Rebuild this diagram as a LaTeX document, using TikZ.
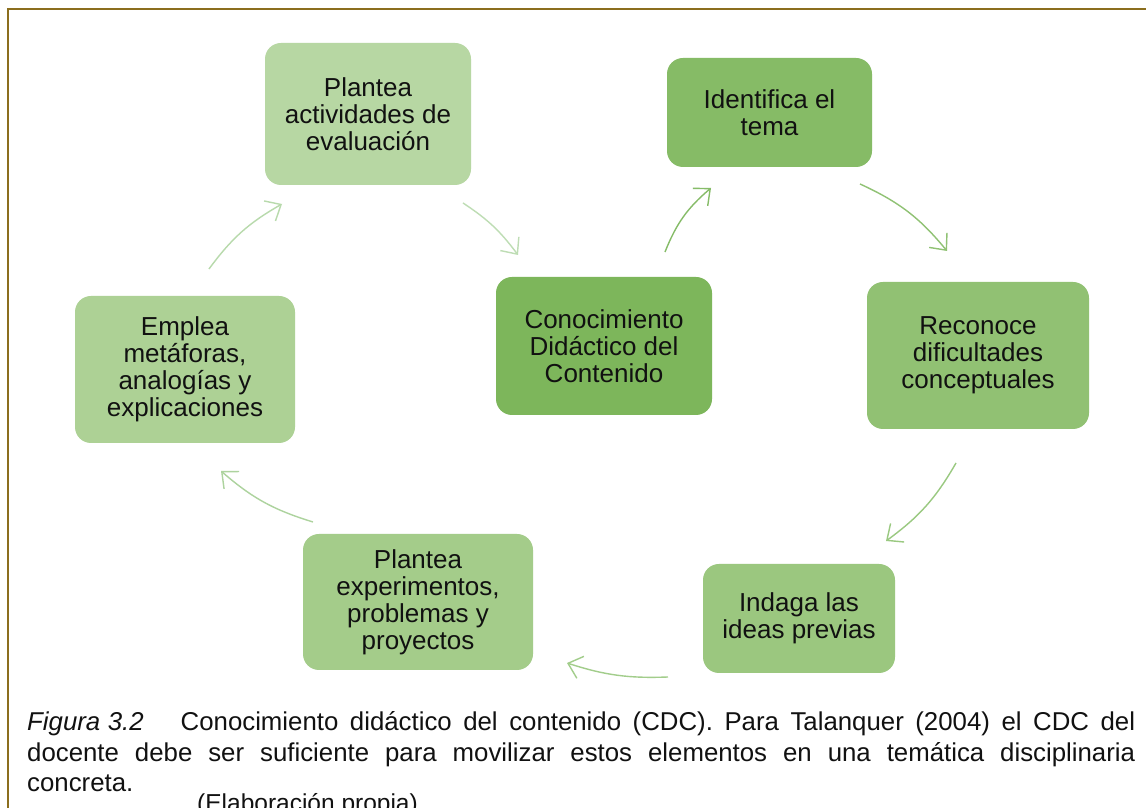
\documentclass[tikz,border=0pt]{standalone}
\usepackage{fontspec}
\setmainfont{Liberation Sans}
\usetikzlibrary{arrows.meta}
\definecolor{frameC}{HTML}{8B6E1E}
\definecolor{cC}{HTML}{7DB65B}
\definecolor{cI}{HTML}{86BB66}
\definecolor{cR}{HTML}{91C173}
\definecolor{cD}{HTML}{9BC77F}
\definecolor{cE}{HTML}{A4CC8A}
\definecolor{cM}{HTML}{ADD195}
\definecolor{cA}{HTML}{B7D7A3}
\definecolor{a1C}{HTML}{86BC68}
\definecolor{a2C}{HTML}{90C274}
\definecolor{a3C}{HTML}{9AC981}
\definecolor{a4C}{HTML}{A2CD8B}
\definecolor{a5C}{HTML}{ADD39E}
\definecolor{a6C}{HTML}{B8DAAC}
\definecolor{a7C}{HTML}{BEDDB4}
\definecolor{txt}{HTML}{111111}
\tikzset{
  box/.style={rounded corners=16pt, inner sep=0pt, align=center, text=txt,
    font=\fontsize{26}{27}\selectfont},
  cyc/.style={line width=1.4pt, -{Straight Barb[length=13pt,width=23pt]}},
  captext/.style={anchor=base west, inner sep=0pt, text=txt, font=\fontsize{25.8}{30}\selectfont}
}
\begin{document}
\begin{tikzpicture}[x=1pt,y=1pt]
\useasboundingbox (0,0) rectangle (1146,808);
\fill[white] (0,0) rectangle (1146,808);
\draw[frameC, line width=2pt] (7.5,798.5) rectangle (1170,-30);

\node[box, fill=cC, minimum width=216pt, minimum height=138pt] (C) at (604,462) {Conocimiento\\Didáctico del\\Contenido};
\node[box, fill=cI, minimum width=205pt, minimum height=109pt] (I) at (769.5,695.5) {Identifica el\\tema};
\node[box, fill=cR, minimum width=222pt, minimum height=147pt] (R) at (978,452.5) {Reconoce\\dificultades\\conceptuales};
\node[box, fill=cD, minimum width=192pt, minimum height=109pt] (D) at (799,189.5) {Indaga las\\ideas previas};
\node[box, fill=cE, minimum width=230pt, minimum height=136pt] (E) at (418,206) {Plantea\\experimentos,\\problemas y\\proyectos};
\node[box, fill=cM, minimum width=220pt, minimum height=147pt] (M) at (185,438.5) {Emplea\\metáforas,\\analogías y\\explicaciones};
\node[box, fill=cA, minimum width=206pt, minimum height=142pt] (A) at (368,694) {Plantea\\actividades de\\evaluación};

\coordinate (s1) at (665,556); \coordinate (e1) at (711,620);
\coordinate (s2) at (860,624); \coordinate (e2) at (947,557);
\coordinate (s3) at (956,345); \coordinate (e3) at (886,267);
\coordinate (s4) at (668,131); \coordinate (e4) at (567,145);
\coordinate (s5) at (313,286); \coordinate (e5) at (221,337);
\coordinate (s6) at (209,539); \coordinate (e6) at (282,604);
\coordinate (s7) at (463,605); \coordinate (e7) at (518,553);

\draw[cyc, a1C] (s1) to[bend left=14] (e1);
\draw[cyc, a2C] (s2) to[bend left=13] (e2);
\draw[cyc, a3C] (s3) to[bend left=12] (e3);
\draw[cyc, a4C] (s4) to[bend left=10] (e4);
\draw[cyc, a5C] (s5) to[bend left=12] (e5);
\draw[cyc, a6C] (s6) to[bend left=12] (e6);
\draw[cyc, a7C] (s7) to[bend left=10] (e7);

\node[captext] (cap1) at (27,77) {\makebox[1108pt][s]{\textit{Figura\hspace{7.5pt}3.2}\hspace{37pt}Conocimiento didáctico del contenido (CDC). Para Talanquer (2004) el CDC del}};
\node[captext] (cap2) at (27,46) {\makebox[1108pt][s]{docente debe ser suficiente para movilizar estos elementos en una temática disciplinaria}};
\node[captext] (cap3) at (27,16) {concreta.};
\node[captext, font=\fontsize{24.5}{30}\selectfont] (cap4) at (197,-4) {(Elaboración propia)};
\end{tikzpicture}
\end{document}
